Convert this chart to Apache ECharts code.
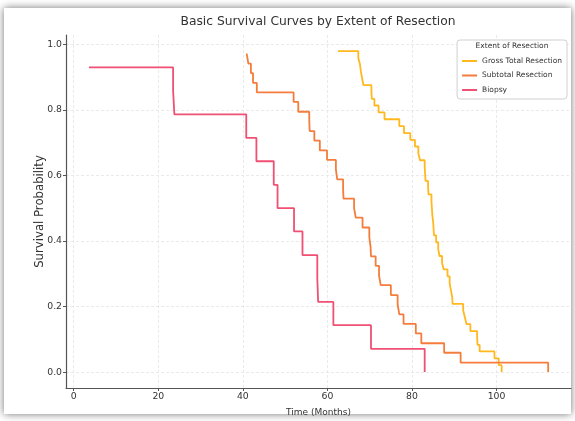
<!DOCTYPE html>
<html>
<head>
<meta charset="utf-8">
<script src="https://cdn.jsdelivr.net/npm/echarts@6/dist/echarts.min.js"></script>
<style>html,body{margin:0;padding:0;background:#fff}#c{width:575px;height:421px}</style>
</head>
<body>
<div id="c"></div>
<script>
// ---- data ----
const gtrTime = [62.5, 67.3, 67.7, 67.9, 68.2, 68.5, 70.4, 70.5, 71.1, 72.1, 73.5, 77.0, 78.1, 79.6, 80.7, 81.5, 81.9, 83.0, 83.1, 83.2, 83.8, 83.9, 84.6, 84.7, 84.8, 85.0, 85.1, 85.2, 85.7, 86.2, 86.5, 87.1, 87.5, 88.4, 88.9, 89.2, 89.5, 89.6, 92.1, 92.5, 92.9, 93.8, 95.4, 95.5, 96.0, 99.5, 100.5, 101.2];
const gtrSurv = [0.979, 0.958, 0.938, 0.917, 0.896, 0.875, 0.854, 0.833, 0.813, 0.792, 0.771, 0.750, 0.729, 0.708, 0.688, 0.667, 0.646, 0.625, 0.604, 0.583, 0.563, 0.542, 0.521, 0.500, 0.479, 0.458, 0.438, 0.417, 0.396, 0.375, 0.354, 0.333, 0.313, 0.292, 0.271, 0.250, 0.229, 0.208, 0.188, 0.167, 0.146, 0.125, 0.104, 0.083, 0.063, 0.042, 0.021, 0.0];

const strTime = [40.9, 41.3, 41.9, 42.4, 43.3, 52.0, 53.1, 55.7, 55.8, 56.9, 58.2, 59.9, 62.0, 62.3, 63.7, 63.8, 66.3, 66.7, 68.3, 69.9, 70.2, 70.3, 71.4, 72.2, 72.6, 75.0, 76.6, 77.0, 78.0, 80.9, 82.2, 87.6, 91.5, 112.2];
const strSurv = [0.971, 0.941, 0.912, 0.882, 0.853, 0.824, 0.794, 0.765, 0.735, 0.706, 0.676, 0.647, 0.618, 0.588, 0.559, 0.529, 0.500, 0.471, 0.441, 0.412, 0.382, 0.353, 0.324, 0.294, 0.265, 0.235, 0.206, 0.176, 0.147, 0.118, 0.088, 0.059, 0.029, 0.0];

const bioTime = [3.6, 23.5, 23.8, 40.8, 43.2, 47.3, 48.2, 52.1, 54.1, 57.6, 57.8, 61.4, 70.3, 83.0];
const bioSurv = [0.929, 0.857, 0.786, 0.714, 0.643, 0.571, 0.500, 0.429, 0.357, 0.286, 0.214, 0.143, 0.071, 0.0];

const seriesNames = ['Gross Total Resection', 'Subtotal Resection', 'Biopsy'];
const xTicks = [0, 20, 40, 60, 80, 100];
const yTicks = [0.0, 0.2, 0.4, 0.6, 0.8, 1.0];
const titleText = 'Basic Survival Curves by Extent of Resection';
const legendTitle = 'Extent of Resection';
const xName = 'Time (Months)';
const yName = 'Survival Probability';

// ---- chart ----
const colors = ['#FFB81E', '#F57D3C', '#F05073'];
const pairs = (t, s) => t.map((v, i) => [v, s[i]]);
const sets = [pairs(gtrTime, gtrSurv), pairs(strTime, strSurv), pairs(bioTime, bioSurv)];
const font = 'DejaVu Sans';
const axisColor = '#555';

const chart = echarts.init(document.getElementById('c'), null, {renderer: 'canvas'});
chart.setOption({
  animation: false,
  backgroundColor: '#fff',
  textStyle: {fontFamily: font},
  graphic: [{
    type: 'rect', z: -10, silent: true,
    shape: {x: 4, y: 8, width: 567, height: 406},
    style: {fill: '#fff', shadowBlur: 8, shadowColor: 'rgba(0,0,0,0.55)'}
  }],
  title: [{
    text: titleText, left: 318, top: 16, textAlign: 'center', padding: 0,
    textStyle: {fontFamily: font, fontSize: 12.3, fontWeight: 'normal', color: '#333'}
  }, {
    text: legendTitle, left: 512, top: 42, textAlign: 'center', padding: 0, z: 10,
    textStyle: {fontFamily: font, fontSize: 7.5, fontWeight: 'normal', color: '#333'}
  }],
  legend: {
    orient: 'vertical', right: 8, top: 40,
    padding: [17, 5, 5, 5],
    backgroundColor: '#fff', borderColor: '#d0d0d0', borderWidth: 1, borderRadius: 3,
    icon: 'rect', itemWidth: 15, itemHeight: 2, itemGap: 6.5,
    textStyle: {fontFamily: font, fontSize: 7.5, color: '#333', padding: [0, 0, 0, 0]},
    data: seriesNames
  },
  grid: {left: 66, right: 4, top: 35, bottom: 33, containLabel: false, outerBoundsMode: 'none'},
  xAxis: {
    type: 'value', min: -1.83, max: 117.6,
    name: xName, nameLocation: 'middle', nameGap: 20, nameMoveOverlap: false,
    nameTextStyle: {fontFamily: font, fontSize: 9, color: '#333'},
    axisLine: {show: true, onZero: false, lineStyle: {color: axisColor, width: 1.2}},
    axisTick: {show: true, length: 3, lineStyle: {color: axisColor}, customValues: xTicks},
    axisLabel: {fontFamily: font, fontSize: 9.3, color: '#333', margin: 4, customValues: xTicks,
      formatter: v => String(v)},
    splitLine: {show: true, lineStyle: {color: '#e4e4e4', width: 0.8, type: [3, 2]}}
  },
  yAxis: {
    type: 'value', min: -0.0485, max: 1.028,
    name: yName, nameLocation: 'middle', nameGap: 20, nameRotate: 90, nameMoveOverlap: false,
    nameTextStyle: {fontFamily: font, fontSize: 11.7, color: '#333'},
    axisLine: {show: true, onZero: false, lineStyle: {color: axisColor, width: 1.2}},
    axisTick: {show: true, length: 3, lineStyle: {color: axisColor}, customValues: yTicks},
    axisLabel: {fontFamily: font, fontSize: 9.3, color: '#333', margin: 4, customValues: yTicks,
      formatter: v => v.toFixed(1)},
    splitLine: {show: true, lineStyle: {color: '#e4e4e4', width: 0.8, type: [3, 2]}}
  },
  series: seriesNames.map((n, i) => ({
    name: n, type: 'line', step: 'end', showSymbol: false, symbol: 'none',
    data: sets[i], color: colors[i],
    lineStyle: {width: 1.8, color: colors[i]}
  }))
});
</script>
</body>
</html>
